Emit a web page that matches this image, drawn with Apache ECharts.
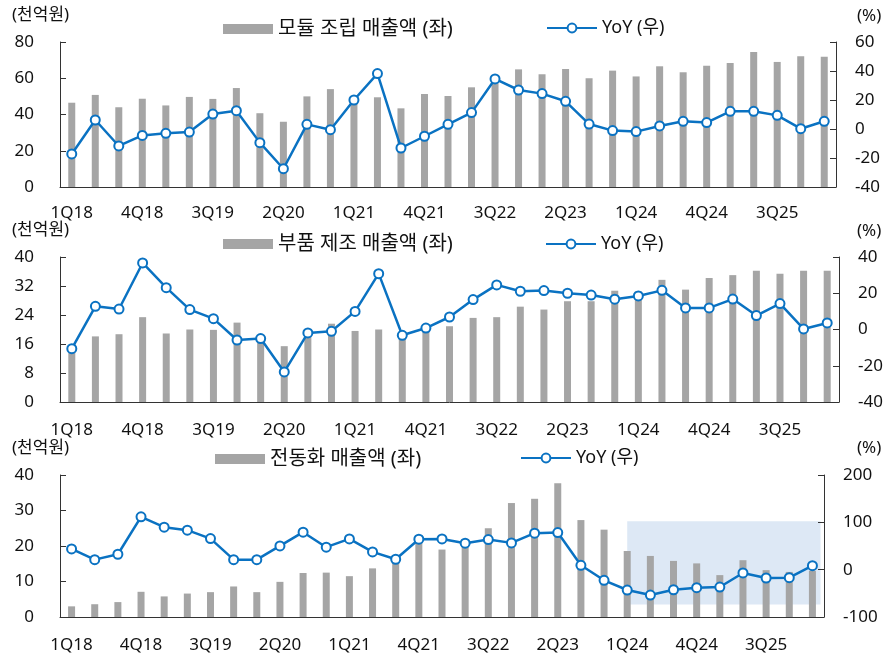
<!DOCTYPE html>
<html>
<head>
<meta charset="utf-8">
<script src="https://cdn.jsdelivr.net/npm/echarts@6/dist/echarts.min.js"></script>
<style>
html,body{margin:0;padding:0;background:#fff;}
#chart{width:893px;height:658px;}
</style>
</head>
<body>
<div id="chart"></div>
<script>
// ---- data ----
const quarters = ['1Q18','2Q18','3Q18','4Q18','1Q19','2Q19','3Q19','4Q19','1Q20','2Q20','3Q20','4Q20',
  '1Q21','2Q21','3Q21','4Q21','1Q22','2Q22','3Q22','4Q22','1Q23','2Q23','3Q23','4Q23',
  '1Q24','2Q24','3Q24','4Q24','1Q25','2Q25','3Q25','4Q25','1Q26'];

const moduleSales = [46.5, 50.8, 44, 48.7, 45, 49.7, 48.6, 54.6, 40.7, 36, 50, 54, 48, 49.5, 43.4, 51.3, 50.2,
  55, 58, 64.9, 62.2, 65.1, 60, 64.2, 61, 66.6, 63.3, 66.9, 68.4, 74.5, 69, 72.1, 71.9];
const moduleYoY = [-17.2, 6.2, -11.7, -4.4, -3, -2.1, 10.3, 12.6, -9.4, -27.4, 3.2, -0.5, 20, 38.2, -13.1, -5, 3.2,
  11.3, 34.5, 26.9, 24.4, 19.1, 3.4, -1.1, -1.8, 2.1, 5.3, 4.4, 12.2, 12.2, 9.4, 0.2, 5.3];

const partsSales = [14, 18.1, 18.7, 23.4, 18.9, 20, 19.9, 21.9, 16.5, 15.4, 18.5, 21.6, 19.6, 20, 17.5, 19.8, 20.9,
  23.2, 23.4, 26.3, 25.5, 27.8, 27.8, 30.7, 30.5, 33.7, 31, 34.2, 35, 36.2, 35.4, 36.2, 36.2];
const partsYoY = [-10.6, 12.8, 11.3, 36.7, 23.1, 11, 6, -5.8, -5, -23.4, -1.9, -1, 10, 30.8, -3.2, 0.8, 6.9,
  16.5, 24.6, 21.1, 21.5, 20, 19, 16.7, 18.5, 21.6, 11.9, 11.9, 16.8, 7.7, 14.3, 0.3, 3.6];

const elecSales = [3.0, 3.6, 4.2, 7.1, 5.8, 6.6, 7.0, 8.6, 7.0, 9.9, 12.4, 12.5, 11.5, 13.7, 15.5, 21, 19.0,
  20.5, 25.0, 32.1, 33.3, 37.7, 27.3, 24.6, 18.6, 17.2, 15.8, 15.1, 11.8, 16.0, 13.2, 12.7, 13.0];
const elecYoY = [43.8, 21.2, 32.6, 111.7, 89.8, 83.5, 65.7, 21.2, 21.2, 50.2, 79.2, 47.5, 65, 37.5, 22, 64.4, 65,
  55.9, 63.6, 56.6, 77.1, 78.4, 9.3, -22.5, -43, -53.6, -42.4, -38.1, -36.7, -7, -17.6, -16.9, 8.5];

const barNames = ['모듈 조립 매출액 (좌)', '부품 제조 매출액 (좌)', '전동화 매출액 (좌)'];
const lineName = 'YoY (우)';
const leftAxes = [{min:0,max:80,interval:20},{min:0,max:40,interval:8},{min:0,max:40,interval:10}];
const rightAxes = [{min:-40,max:60,interval:20},{min:-40,max:40,interval:20},{min:-100,max:200,interval:100}];
const highlight = {from:'1Q24', to:'1Q26', top:27, bottom:3.5};

// ---- style / layout ----
const FONT = "'Noto Sans', 'Noto Sans CJK KR', sans-serif";
const TXT = '#111';
const AX = '#333';
const BAR = '#A5A5A5';
const BLUE = '#0A72C2';
const FS = 17;

const grids = [
  {left:60, top:42, width:776, height:145},
  {left:60, top:257, width:779, height:145},
  {left:60, top:475, width:764, height:142}
];
const labelMargin = [18, 20, 20];
const legendPos = [
  {bar:[223,19], line:[546,19]},
  {bar:[223,234], line:[545,235]},
  {bar:[215,449], line:[520,449]}
];
const unitPos = [[12,17,857,18],[12,232,857,233],[12,450,857,450]];

const salesData = [moduleSales, partsSales, elecSales];
const yoyData = [moduleYoY, partsYoY, elecYoY];

const xAxis = [], yAxis = [], series = [], legend = [], graphic = [];
for (let i = 0; i < 3; i++) {
  xAxis.push({
    type:'category', gridIndex:i, data:quarters, boundaryGap:true,
    axisLine:{lineStyle:{color:AX, width:1}},
    axisTick:{inside:true, length:5, interval:0, lineStyle:{color:AX}},
    axisLabel:{interval:2, margin:labelMargin[i], fontSize:FS, color:TXT, fontFamily:FONT}
  });
  yAxis.push({
    type:'value', gridIndex:i, position:'left', ...leftAxes[i],
    axisLine:{show:true, lineStyle:{color:AX}},
    axisTick:{show:true, inside:true, length:6, lineStyle:{color:AX}},
    axisLabel:{margin:26, fontSize:FS, color:TXT, fontFamily:FONT},
    splitLine:{show:false}
  });
  yAxis.push({
    type:'value', gridIndex:i, position:'right', ...rightAxes[i],
    axisLine:{show:true, lineStyle:{color:AX}},
    axisTick:{show:true, inside:true, length:6, lineStyle:{color:AX}},
    axisLabel:{margin:19, fontSize:FS, color:TXT, fontFamily:FONT, align:'left'},
    splitLine:{show:false}
  });
  series.push({
    name:barNames[i], type:'bar', xAxisIndex:i, yAxisIndex:2*i, data:salesData[i],
    barWidth:7, itemStyle:{color:BAR}, z:2
  });
  series.push({
    name:lineName, type:'line', xAxisIndex:i, yAxisIndex:2*i+1, data:yoyData[i],
    symbol:'circle', symbolSize:9, showAllSymbol:true,
    lineStyle:{color:BLUE, width:2.5},
    itemStyle:{color:'#fff', borderColor:BLUE, borderWidth:2},
    z:3
  });
  legend.push({
    data:[barNames[i]], left:legendPos[i].bar[0], top:legendPos[i].bar[1], padding:0,
    icon:'rect', itemWidth:50, itemHeight:10, selectedMode:false,
    textStyle:{fontSize:20, color:TXT, fontFamily:FONT}
  });
  legend.push({
    data:[lineName], left:legendPos[i].line[0], top:legendPos[i].line[1], padding:0,
    itemWidth:50, itemHeight:11, selectedMode:false,
    textStyle:{fontSize:18, color:TXT, fontFamily:FONT}
  });
  graphic.push({type:'text', left:unitPos[i][0], top:unitPos[i][1]-10,
    style:{text:'(천억원)', fontSize:FS, fontFamily:FONT, fill:TXT}});
  graphic.push({type:'text', left:unitPos[i][2], top:unitPos[i][3]-10,
    style:{text:'(%)', fontSize:FS, fontFamily:FONT, fill:TXT}});
}

const chart = echarts.init(document.getElementById('chart'), null, {renderer:'canvas'});
const option = {
  animation:false,
  backgroundColor:'#fff',
  textStyle:{fontFamily:FONT},
  grid:grids, xAxis, yAxis, series, legend, graphic
};
chart.setOption(option);

// shaded highlight box in the third panel, positioned via the chart's own scales
const xa = chart.convertToPixel({xAxisIndex:2}, highlight.from);
const xbEnd = chart.convertToPixel({xAxisIndex:2}, highlight.to);
const xbPrev = chart.convertToPixel({xAxisIndex:2}, quarters[quarters.length-2]);
const xb = xbEnd + (xbEnd - xbPrev) * 0.35;
const ya = chart.convertToPixel({yAxisIndex:4}, highlight.top);
const yb = chart.convertToPixel({yAxisIndex:4}, highlight.bottom);
graphic.push({type:'rect', z:-1, silent:true,
  shape:{x:xa, y:ya, width:xb-xa, height:yb-ya}, style:{fill:'#DDE8F5'}});
chart.setOption({graphic:graphic});
</script>
</body>
</html>
